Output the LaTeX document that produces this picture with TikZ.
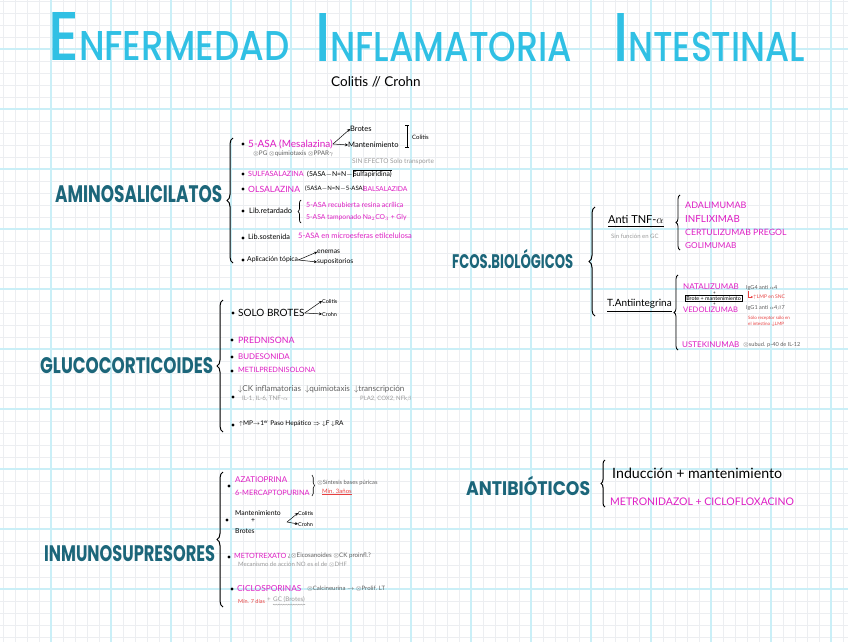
\documentclass[tikz,border=0pt]{standalone}
\usepackage{fontspec}
\usepackage{graphicx}
\setmainfont{Lato}
\newfontfamily\headfont{Poppins}
\newfontfamily\titlefont{Poppins}[UprightFont={* Medium}]
\usetikzlibrary{decorations.pathreplacing,decorations.pathmorphing,arrows.meta}

\definecolor{titlecyan}{RGB}{48,192,228}
\definecolor{headteal}{RGB}{28,102,122}
\definecolor{drugpink}{RGB}{222,30,196}
\definecolor{notegray}{RGB}{95,95,95}
\definecolor{faintgray}{RGB}{155,155,155}
\definecolor{notered}{RGB}{232,64,64}
\definecolor{gridgray}{RGB}{236,238,241}
\definecolor{gridcyan}{RGB}{202,239,247}

\newcommand{\fitword}[3]{\resizebox{#1pt}{#2pt}{#3}}
\newcommand{\sz}[1]{\fontsize{#1}{#1}\selectfont}

\tikzset{
  txt/.style={anchor=west, inner sep=0pt, text=black},
  drug/.style={txt, text=drugpink},
  gnote/.style={txt, text=notegray},
  faint/.style={txt, text=faintgray},
  rnote/.style={txt, text=notered},
  head/.style={anchor=base west, inner sep=0pt, text=headteal, font=\headfont\bfseries},
  curly/.style={decorate, decoration={brace, amplitude=#1}, line width=1pt},
  curly/.default=6pt,
  split/.style={-{Stealth[length=3pt,width=3pt]}, line width=0.5pt},
  uline/.style={line width=0.9pt},
}

\begin{document}
\begin{tikzpicture}[x=1pt,y=-1pt]
  \useasboundingbox (0,0) rectangle (848,642);
  \fill[white] (0,0) rectangle (848,642);

  % squared paper
  \foreach \gx in {3,15,...,843} \draw[gridgray, line width=0.6pt] (\gx,0) -- (\gx,642);
  \foreach \gy in {1,13,...,637} \draw[gridgray, line width=0.6pt] (0,\gy) -- (848,\gy);
  \foreach \gx in {51,111,...,831} \draw[gridcyan, line width=1.2pt] (\gx,0) -- (\gx,642);
  \foreach \gy in {49,109,...,589} \draw[gridcyan, line width=1.2pt] (0,\gy) -- (848,\gy);

  % title
  \node[anchor=base west, inner sep=0pt, text=titlecyan, font=\titlefont] (tw1) at (48,61)
    {\fitword{241}{48}{{\sz{48}E}{\sz{29}NFERMEDAD}}};
  \node[anchor=base west, inner sep=0pt, text=titlecyan, font=\titlefont] (tw2) at (315,61)
    {\fitword{257}{48}{{\sz{48}I}{\sz{29}NFLAMATORIA}}};
  \node[anchor=base west, inner sep=0pt, text=titlecyan, font=\titlefont] (tw3) at (613,61)
    {\fitword{192}{48}{{\sz{48}I}{\sz{29}NTESTINAL}}};
  \node[txt, anchor=base west, font=\sz{13.5}] (sub) at (331,86) {Colitis // Crohn};

  % headings
  \node[head] (ami) at (55,202) {\fitword{167}{17}{AMINOSALICILATOS}};
  \node[head] (gluco) at (40,373) {\fitword{173}{16}{GLUCOCORTICOIDES}};
  \node[head] (inmu) at (44,561) {\fitword{171}{16}{INMUNOSUPRESORES}};
  \node[head] (bio) at (452,268) {\fitword{121}{14}{FCOS.BIOL\smash{Ó}GICOS}};
  \node[head] (anti) at (466,495) {\fitword{124}{14}{ANTIBI\smash{Ó}TICOS}};

  % --- aminosalicilatos
  \coordinate (amiTop) at (233,138);
  \coordinate (amiBot) at (233,263);
  \draw[curly] (amiBot) -- (amiTop);

  \fill (243,144) circle (1.6);
  \node[drug, font=\sz{10}] (asa) at (248,144) {5-ASA (Mesalazina)};
  \node[txt, font=\sz{7.5}] (brotes) at (350,129) {Brotes};
  \node[txt, font=\sz{7.5}] (mant) at (348,145) {Mantenimiento};
  \draw[split] (asa.east) -- (brotes.west);
  \draw[split] (asa.east) -- (mant.west);
  \coordinate (barTop) at (407,125);
  \coordinate (barBot) at (407,148);
  \draw[line width=0.8pt, {Bar[width=4pt]}-{Bar[width=4pt]}] (barTop) -- (barBot);
  \node[txt, font=\sz{6}] (glitis) at (412,137) {Colitis};
  \node[gnote, font=\sz{6.3}] (asanote) at (253,154) {$\otimes$PG $\otimes$quimiotaxis $\otimes$PPAR$\gamma$};
  \node[faint, font=\sz{6.5}] (sinef) at (352,162) {SIN EFECTO Solo transporte};

  \fill (243,174) circle (1.6);
  \node[drug, font=\sz{7.2}] (sulfa) at (248,174) {SULFASALAZINA};
  \node[txt, font=\sz{6.8}] (sulfaf) at (307,174) {(5ASA$-$N=N$-$};
  \node[txt, font=\sz{6.8}] (spir) at (sulfaf.east) {Sulfapiridina)};
  \draw[line width=0.4pt] (spir.south west) -- (spir.north west) -- (spir.north east);

  \fill (243,189) circle (1.6);
  \node[drug, font=\sz{8.6}] (olsa) at (248,189) {OLSALAZINA};
  \node[txt, font=\sz{6}] (olsaf) at (305,189) {(5ASA$-$N=N$-$5-ASA)};
  \node[drug, font=\sz{6.8}] (balsa) at (363,189) {BALSALAZIDA};

  \fill (243,211) circle (1.6);
  \node[txt, font=\sz{7.4}] (libret) at (249,211) {Lib.retardado};
  \coordinate (retTop) at (301,200);
  \coordinate (retBot) at (301,223);
  \draw[curly=3pt, line width=0.7pt] (retBot) -- (retTop);
  \node[drug, font=\sz{7.1}] (rec1) at (306,205) {5-ASA recubierta resina acrílica};
  \node[drug, font=\sz{6.8}] (rec2) at (306,218) {5-ASA tamponado Na$_2$CO$_3$ + Gly};

  \fill (243,238) circle (1.6);
  \node[txt, font=\sz{7.3}] (libsos) at (248,237) {Lib.sostenida};
  \node[drug, font=\sz{7.5}] (micro) at (298,236) {5-ASA en microesferas etilcelulosa};

  \fill (243,260) circle (1.6);
  \node[txt, font=\sz{6.8}] (topica) at (247,260) {Aplicación tópica};
  \node[txt, font=\sz{6.8}] (enemas) at (317,252) {enemas};
  \node[txt, font=\sz{6.8}] (supos) at (317,262) {supositorios};
  \draw[split] (topica.east) -- (enemas.west);
  \draw[split] (topica.east) -- (supos.west);

  % --- glucocorticoides
  \coordinate (gluTop) at (223,300);
  \coordinate (gluBot) at (223,432);
  \draw[curly] (gluBot) -- (gluTop);

  \fill (233,313) circle (1.6);
  \node[txt, font=\sz{10}] (solo) at (238,313) {SOLO BROTES};
  \node[txt, font=\sz{5.5}] (gcol) at (322,301) {Colitis};
  \node[txt, font=\sz{5.5}] (gcro) at (322,314) {Crohn};
  \draw[split] (solo.east) -- (gcol.west);
  \draw[split] (solo.east) -- (gcro.west);

  \fill (232,340) circle (1.6);
  \node[drug, font=\sz{8.8}] (pred) at (238,340) {PREDNISONA};
  \fill (232,357) circle (1.6);
  \node[drug, font=\sz{7.9}] (bude) at (238,357) {BUDESONIDA};
  \fill (232,371) circle (1.6);
  \node[drug, font=\sz{7.3}] (metil) at (238,370) {METILPREDNISOLONA};

  \fill (233,397) circle (1.6);
  \node[gnote, font=\sz{8.1}] (ck) at (238,389) {$\downarrow$CK inflamatorias\ \ $\downarrow$quimiotaxis\ \ $\downarrow$transcripción};
  \node[faint, font=\sz{6.2}] (ils) at (242,399) {IL-1, IL-6, TNF-$\alpha$};
  \node[faint, font=\sz{6}] (pla) at (360,399) {PLA2, COX2, NFk$\beta$};

  \fill (233,425) circle (1.6);
  \node[txt, font=\sz{6.5}] (imp) at (239,424) {$\uparrow$MP$\rightarrow$1\textsuperscript{er} Paso Hepático $\Rightarrow$ $\downarrow$F $\downarrow$RA};

  % --- inmunosupresores
  \coordinate (inmTop) at (223,472);
  \coordinate (inmBot) at (223,607);
  \draw[curly] (inmBot) -- (inmTop);

  \fill (229,486) circle (1.6);
  \node[drug, font=\sz{8}] (aza) at (235,480) {AZATIOPRINA};
  \node[drug, font=\sz{7.4}] (mp) at (235,493) {6-MERCAPTOPURINA};
  \coordinate (azaTop) at (312,475);
  \coordinate (azaBot) at (312,496);
  \draw[curly=2.5pt, line width=0.6pt] (azaTop) -- (azaBot);
  \node[gnote, font=\sz{5.8}] (sint) at (317,483) {$\otimes$Síntesis bases púricas};
  \node[rnote, font=\sz{6}] (min3) at (322,492) {\underline{Mín. 3años}};

  \fill (227,520) circle (1.6);
  \node[txt, font=\sz{6.8}] (mant2) at (235,513) {Mantenimiento};
  \node[txt, font=\sz{6.8}] (plus) at (251,521) {+};
  \node[txt, font=\sz{6.8}] (brot2) at (235,531) {Brotes};
  \coordinate (mbsplit) at (287,522);
  \node[txt, font=\sz{5.5}] (icol) at (298,513) {Colitis};
  \node[txt, font=\sz{5.5}] (icro) at (298,524) {Crohn};
  \draw[split] (mbsplit) -- (icol.west);
  \draw[split] (mbsplit) -- (icro.west);

  \fill (229,557) circle (1.6);
  \node[drug, font=\sz{7.2}] (mtx) at (234,556) {METOTREXATO};
  \node[gnote, font=\sz{6.2}] (mtxnote) at (288,556) {¿$\otimes$Eicosanoides $\otimes$CK proinfl.?};
  \node[faint, font=\sz{6}] (mech) at (238,565) {Mecanismo de acción NO es el de $\otimes$DHF};

  \fill (232,589) circle (1.6);
  \node[drug, font=\sz{8.3}] (ciclo) at (237,589) {CICLOSPORINAS};
  \node[gnote, font=\sz{6}] (calc) at (307,589) {$\otimes$Calcineurina $\rightarrow$ $\otimes$Prolif. LT};
  \node[rnote, font=\sz{5.5}] (min7) at (238,601) {Mín. 7 días};
  \node[faint, font=\sz{6.3}] (plusgc) at (267,600) {+};
  \node[faint, font=\sz{6.3}] (gcb) at (273,600) {GC (Brotes)};
  \draw[faintgray, decorate, decoration={snake, amplitude=0.5pt, segment length=2.5pt}, line width=0.35pt]
    ([yshift=-1.5pt]gcb.south west) -- ([yshift=-1.5pt]gcb.south east);

  % --- biologicos
  \coordinate (bioTop) at (595,207);
  \coordinate (bioBot) at (595,316);
  \draw[curly] (bioBot) -- (bioTop);

  \node[txt, font=\sz{11}] (tnf) at (608,220) {Anti TNF-$\alpha$};
  \draw[uline] ([yshift=-2.5pt]tnf.south west) -- ([yshift=-2.5pt]tnf.south east);
  \node[faint, font=\sz{6}] (sinf) at (611,236) {Sin función en GC};
  \coordinate (tnfTop) at (680,195);
  \coordinate (tnfBot) at (680,250);
  \draw[curly=4pt, line width=0.8pt] (tnfBot) -- (tnfTop);
  \node[drug, font=\sz{9}] (ada) at (685,205) {ADALIMUMAB};
  \node[drug, font=\sz{9.8}] (infl) at (685,219) {INFLIXIMAB};
  \node[drug, font=\sz{8.7}] (cert) at (685,232) {CERTULIZUMAB PREGOL};
  \node[drug, font=\sz{8.2}] (goli) at (685,246) {GOLIMUMAB};

  \node[txt, font=\sz{10}] (antiint) at (607,304) {T.Antiintegrina};
  \draw[uline] ([yshift=-2.5pt]antiint.south west) -- ([yshift=-2.5pt]antiint.south east);
  \coordinate (intTop) at (678,275);
  \coordinate (intBot) at (678,350);
  \draw[curly=4pt, line width=0.8pt] (intBot) -- (intTop);
  \node[drug, font=\sz{8}] (nata) at (683,287) {NATALIZUMAB};
  \node[txt, font=\sz{4.5}] (plus1) at (713,293) {+};
  \node[txt, draw, line width=0.5pt, inner sep=1pt, font=\sz{5.4}] (brmant) at (685,298.5) {Brote + mantenimiento};
  \node[txt, font=\sz{4.5}] (plus2) at (713,304) {+};
  \node[drug, font=\sz{7.6}] (vedo) at (683,310) {VEDOLIZUMAB};
  \node[gnote, font=\sz{5.5}] (igg4) at (746,288) {IgG4 anti $\alpha$4};
  \node[rnote, font=\sz{5}] (lmp) at (753,297) {$\uparrow$LMP en SNC};
  \draw[notered, line width=0.4pt, -{Stealth[length=2pt,width=2pt]}] ([xshift=2pt]igg4.south west) |- (lmp.west);
  \node[gnote, font=\sz{5.5}] (igg1) at (746,308) {IgG1 anti $\alpha$4$\beta$7};
  \node[rnote, font=\fontsize{4.5}{6}\selectfont, align=left] (solrec) at (748,321) {Sólo receptor sólo en\\el intestino $\downarrow$LMP};
  \node[drug, font=\sz{8}] (ustek) at (682,345) {USTEKINUMAB};
  \node[gnote, font=\sz{5.6}] (ustnote) at (743,345) {$\otimes$subud. p-40 de IL-12};

  % --- antibioticos
  \coordinate (abTop) at (605,460);
  \coordinate (abBot) at (605,507);
  \draw[curly=4pt] (abBot) -- (abTop);
  \node[txt, font=\sz{14.2}] (induc) at (612,473) {Inducción + mantenimiento};
  \node[drug, font=\sz{10.5}] (metro) at (610,502) {METRONIDAZOL + CICLOFLOXACINO};

\end{tikzpicture}
\end{document}
